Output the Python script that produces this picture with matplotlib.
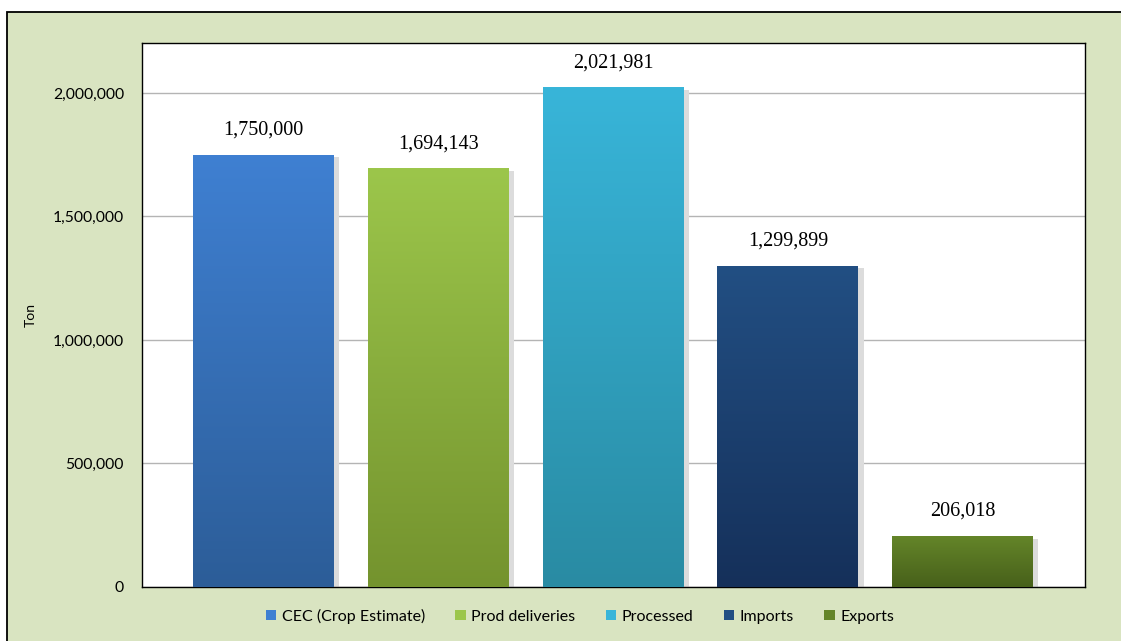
import numpy as np
import matplotlib.pyplot as plt
from matplotlib.patches import Rectangle
from matplotlib.colors import LinearSegmentedColormap
from matplotlib.ticker import FuncFormatter, MultipleLocator

# data
series = ['CEC (Crop Estimate)', 'Prod deliveries', 'Processed', 'Imports', 'Exports']
values = [1750000, 1694143, 2021981, 1299899, 206018]
# (top colour, bottom colour) of each bar gradient
top_colors = ['#3f80d2', '#9cc64b', '#38b5d9', '#224f83', '#648529']
bottom_colors = ['#2c5d98', '#74932e', '#298ba3', '#15305a', '#47601a']

SANS = ['Lato', 'DejaVu Sans']

W, H = 1121, 641
fig = plt.figure(figsize=(W / 100, H / 100), dpi=100)
fig.patch.set_facecolor('white')

# green panel with black frame (right and bottom edges run off the picture)
panel = Rectangle((7 / W, -0.01), 1.02, 1 - 12 / H + 0.01, transform=fig.transFigure,
                  facecolor='#d9e4c1', edgecolor='black', linewidth=1.3, zorder=-10)
fig.patches.append(panel)

ax = fig.add_axes([142 / W, 1 - 587 / H, (1085 - 142) / W, (587 - 43) / H])
ax.set_zorder(1)
ax.set_facecolor('white')
for s in ax.spines.values():
    s.set_color('black')
    s.set_linewidth(1.0)

x = np.arange(len(values))
width = 0.806
ax.yaxis.set_major_locator(MultipleLocator(500000))
ax.yaxis.set_major_formatter(FuncFormatter(lambda v, p: f'{int(v):,}'))
ax.grid(axis='y', color='#b4b4b4', linewidth=1.0)
ax.set_axisbelow(True)
ax.set_xticks([])
ax.tick_params(axis='y', length=0, pad=13, labelsize=11.3)
for lbl in ax.get_yticklabels():
    lbl.set_fontfamily(SANS)
ax.set_ylabel('Ton', fontsize=10, family=SANS)
ax.yaxis.set_label_coords(-(142 - 37) / 943, 0.5)

grad = np.linspace(0, 1, 256).reshape(-1, 1)
for i, (v, c_top, c_bot) in enumerate(zip(values, top_colors, bottom_colors)):
    left = x[i] - width / 2
    # soft shadow
    ax.add_patch(Rectangle((left + 0.03, 0), width, v - 10000, facecolor='#dcdcdc',
                           edgecolor='none', zorder=2))
    cmap = LinearSegmentedColormap.from_list(f'g{i}', [c_bot, c_top])
    rect = Rectangle((left, 0), width, v, facecolor='none', edgecolor='none', zorder=3)
    ax.add_patch(rect)
    im = ax.imshow(grad, cmap=cmap, origin='lower', aspect='auto',
                   extent=[left, left + width, 0, v], zorder=3)
    im.set_clip_path(rect)
    ax.annotate(f'{v:,}', (x[i], v), xytext=(0, 11), textcoords='offset points',
                ha='center', va='bottom', fontsize=14.5,
                family=['Liberation Serif', 'DejaVu Serif'])

ax.set_xlim(-0.695, 4.7)
ax.set_ylim(0, 2202000)

handles = [Rectangle((0, 0), 1, 1, facecolor=c, edgecolor='none') for c in top_colors]
leg = fig.legend(handles, series, loc='center', bbox_to_anchor=(580 / W, 1 - 616 / H),
                 ncol=5, frameon=False, handlelength=0.65, handleheight=0.65,
                 handletextpad=0.35, columnspacing=1.9,
                 prop={'family': SANS, 'size': 11.5})

fig.savefig('out.png', dpi=100, facecolor=fig.get_facecolor())
